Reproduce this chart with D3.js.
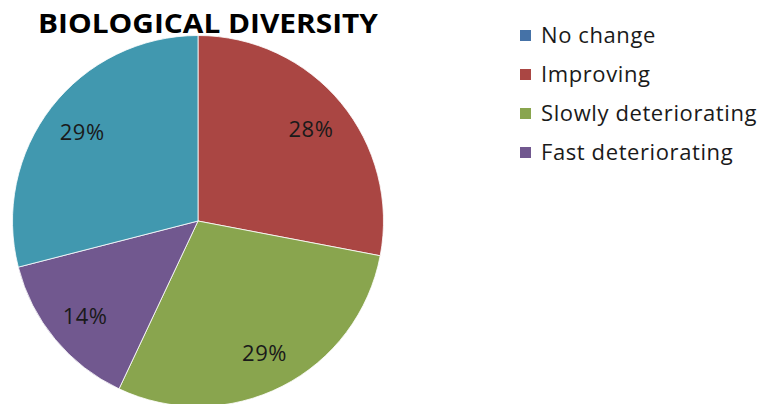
<!DOCTYPE html>
<html>
<head>
<meta charset="utf-8">
<script src="https://cdn.jsdelivr.net/npm/d3@7"></script>
<style>
  html, body { margin: 0; padding: 0; background: #fff; }
  svg { display: block; }
</style>
</head>
<body>
<svg id="chart" width="763" height="404"></svg>
<script>
// Biological diversity trend shares (percent)
const categories = ["No change", "Improving", "Slowly deteriorating", "Fast deteriorating", "Not known"];
const values = [0, 28, 29, 14, 29];
const colors = ["#4572A7", "#AA4643", "#89A54E", "#71588F", "#4198AF"];
const legendItems = ["No change", "Improving", "Slowly deteriorating", "Fast deteriorating"];
const title = "BIOLOGICAL DIVERSITY";

const svg = d3.select("#chart");
const font = "'Open Sans', Lato, 'DejaVu Sans', sans-serif";

const cx = 198, cy = 221, R = 185.5;
const data = categories.map((c, i) => ({ name: c, value: values[i], color: colors[i] }));

const pie = d3.pie().value(d => d.value).sort(null);
const arc = d3.arc().innerRadius(0).outerRadius(R);
const labelArc = d3.arc().innerRadius(R * 0.79).outerRadius(R * 0.79);

const g = svg.append("g").attr("transform", `translate(${cx},${cy})`);
const arcs = pie(data).filter(d => d.data.value > 0);

g.selectAll("path.slice")
  .data(arcs)
  .join("path")
  .attr("class", "slice")
  .attr("d", arc)
  .attr("fill", d => d.data.color)
  .attr("stroke", "#ffffff")
  .attr("stroke-width", 0.8);

g.selectAll("text.pct")
  .data(arcs)
  .join("text")
  .attr("class", "pct")
  .attr("transform", d => `translate(${labelArc.centroid(d)})`)
  .attr("text-anchor", "middle")
  .attr("dy", "0.42em")
  .attr("font-family", font)
  .attr("font-size", 22)
  .attr("letter-spacing", 0.5)
  .attr("fill", "#1a1a1a")
  .text(d => d3.format(".0f")(d.data.value) + "%");

svg.append("text")
  .attr("x", 208)
  .attr("y", 33)
  .attr("text-anchor", "middle")
  .attr("font-family", font)
  .attr("font-weight", "bold")
  .attr("font-size", 26)
  .attr("textLength", 340)
  .attr("lengthAdjust", "spacingAndGlyphs")
  .attr("fill", "#000")
  .text(title);

const legend = svg.append("g");
const rows = legend.selectAll("g")
  .data(legendItems)
  .join("g")
  .attr("transform", (d, i) => `translate(520, ${35 + i * 39})`);

rows.append("rect")
  .attr("x", 0).attr("y", -5)
  .attr("width", 11).attr("height", 11)
  .attr("fill", d => colors[categories.indexOf(d)]);

rows.append("text")
  .attr("x", 21)
  .attr("dy", "0.36em")
  .attr("font-family", font)
  .attr("font-size", 22)
  .attr("letter-spacing", 0.6)
  .attr("fill", "#1a1a1a")
  .text(d => d);
</script>
</body>
</html>
